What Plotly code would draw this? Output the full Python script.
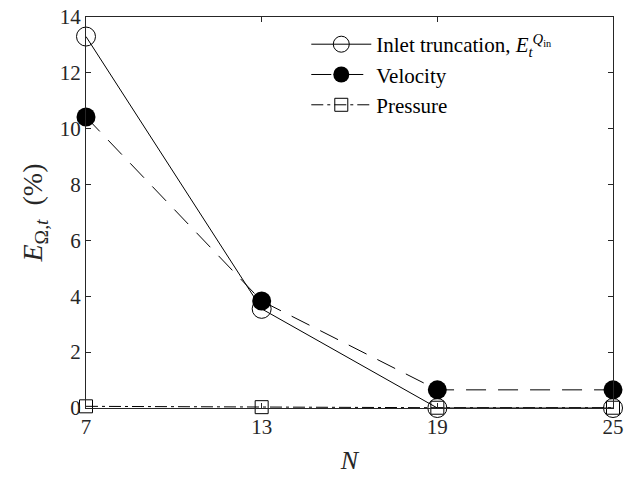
import plotly.graph_objects as go

N = [7, 13, 19, 25]
inlet = [13.3, 3.55, 0.0, 0.0]
velocity = [10.42, 3.83, 0.65, 0.65]
pressure = [0.06, 0.03, 0.01, 0.01]

FONT = "Liberation Serif"
AXIS = "#262626"

fig = go.Figure()
fig.add_trace(go.Scatter(
    x=N, y=inlet, mode="lines+markers", cliponaxis=False,
    name="Inlet truncation, <i>E</i><sub><i>t</i></sub><sup><i>Q</i><sub>in</sub></sup>",
    line=dict(color="black", width=1),
    marker=dict(symbol="circle-open", size=19, color="black", line=dict(width=1)),
))
fig.add_trace(go.Scatter(
    x=N, y=velocity, mode="lines+markers", cliponaxis=False, name="Velocity",
    line=dict(color="black", width=1, dash="20px,12px"),
    marker=dict(symbol="circle", size=19, color="black"),
))
fig.add_trace(go.Scatter(
    x=N, y=pressure, mode="lines+markers", cliponaxis=False, name="Pressure",
    line=dict(color="black", width=1, dash="12px,4px,3px,4px"),
    marker=dict(symbol="square-open", size=13, color="black", line=dict(width=1)),
))

axis_common = dict(
    showline=True, linecolor=AXIS, linewidth=1, mirror="ticks",
    ticks="inside", ticklen=5, tickcolor=AXIS, showgrid=False, zeroline=False,
    tickfont=dict(family=FONT, size=21, color="#262626"),
    ticklabeloverflow="allow",
)
fig.update_xaxes(
    range=[7, 25], tickvals=N,
    title=dict(text="<i>N</i>", font=dict(family=FONT, size=26, color="#262626"), standoff=12),
    **axis_common,
)
fig.update_yaxes(
    range=[0, 14], tickvals=list(range(0, 15, 2)),
    title=dict(text="<i>E</i><sub>Ω,<i>t</i></sub>  (%)", font=dict(family=FONT, size=28, color="#262626"), standoff=8),
    **axis_common,
)
fig.update_layout(
    width=629, height=482,
    margin=dict(l=86, r=5, t=9, b=74),
    paper_bgcolor="white", plot_bgcolor="white",
    font=dict(family=FONT, size=20, color="black"),
    showlegend=True,
    legend=dict(
        x=0.418, y=0.982, xanchor="left", yanchor="top",
        bgcolor="rgba(255,255,255,0)", borderwidth=0,
        font=dict(family=FONT, size=21, color="black"),
        itemwidth=60, tracegroupgap=0,
    ),
)
fig.write_html(
    "out.html",
    config={"displayModeBar": False},
    post_script="document.body.style.margin='0';",
)
